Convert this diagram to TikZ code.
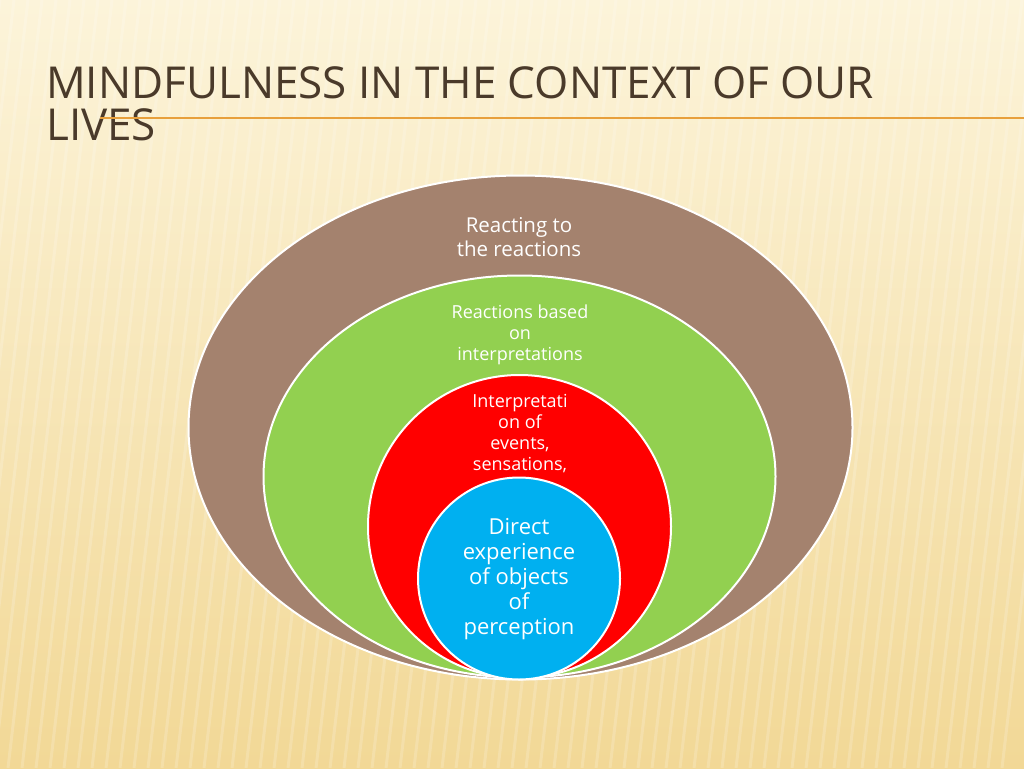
\documentclass[tikz,border=0pt]{standalone}
\usepackage{fontspec}
\setmainfont{Open Sans}
\usetikzlibrary{shapes.geometric}
\begin{document}
\begin{tikzpicture}[x=1pt,y=-1pt,
  ring/.style={draw=white,line width=2pt},
  lbl/.style={text=white,align=center,font=\fontsize{20.5}{24}\selectfont},
  slbl/.style={text=white,align=center,font=\fontsize{18}{21}\selectfont}]
\useasboundingbox (0,0) rectangle (1024,768);
\shade[top color={rgb,255:red,252;green,244;blue,218},bottom color={rgb,255:red,242;green,216;blue,150}] (0,0) rectangle (1024,768);
\foreach \i in {0,14,...,1100}{\draw[white,opacity=0.18,line width=3pt] (\i,0) -- (\i-90,768);}
\node[anchor=base west,inner sep=0,text={rgb,255:red,74;green,58;blue,42},font=\fontsize{44}{44}\selectfont] (t1) at (46,98) {MINDFULNESS IN THE CONTEXT OF OUR};
\node[anchor=base west,inner sep=0,text={rgb,255:red,74;green,58;blue,42},font=\fontsize{44}{44}\selectfont] (t2) at (46,140) {LIVES};
\coordinate (l1) at (100,118); \coordinate (l2) at (1024,118);
\draw[color={rgb,255:red,232;green,160;blue,60},line width=1.2pt] (l1) -- (l2);
\node[ring,ellipse,fill={rgb,255:red,164;green,130;blue,110},minimum width=664pt,minimum height=504pt,inner sep=0] (e1) at (520.5,427.5) {};
\node[ring,ellipse,fill={rgb,255:red,146;green,208;blue,80},minimum width=512pt,minimum height=402pt,inner sep=0] (e2) at (519.5,476.5) {};
\node[ring,circle,fill=red,minimum size=303pt,inner sep=0] (e3) at (519.5,526.5) {};
\node[lbl] (a) at (519,237) {Reacting to\\the reactions};
\node[slbl] (b) at (520,335) {Reactions based\\on\\interpretations};
\node[slbl] (c) at (520,443) {Interpretati\\on of\\events,\\sensations,\\etc.};
\node[ring,circle,fill={rgb,255:red,0;green,176;blue,240},minimum size=202pt,inner sep=0] (e4) at (519,578.5) {};
\node[lbl,font=\fontsize{22}{25}\selectfont] (d) at (519,579) {Direct\\experience\\of objects\\of\\perception};
\end{tikzpicture}
\end{document}
